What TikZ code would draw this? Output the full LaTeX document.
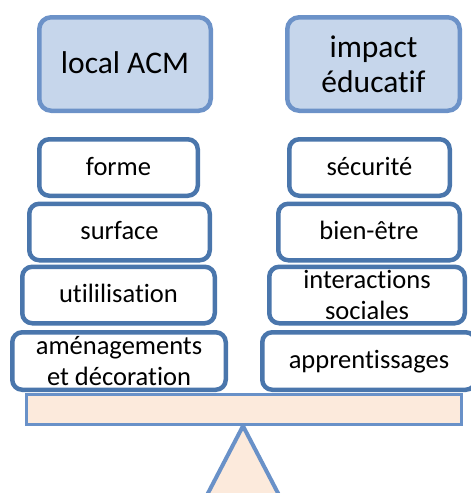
\documentclass[tikz,border=0pt]{standalone}
\usepackage{fontspec}
\setmainfont[Ligatures=NoCommon]{Carlito}
\definecolor{headfill}{HTML}{C6D6EB}
\definecolor{headline}{HTML}{6C92C8}
\definecolor{itemline}{HTML}{4A76AC}
\definecolor{beamfill}{HTML}{FCEADC}
\definecolor{beamline}{HTML}{6991C8}
\tikzset{
  header/.style={draw=headline, fill=headfill, line width=4.5pt, rounded corners=12pt,
    minimum width=#1, minimum height=93.5pt, align=center,
    font=\fontsize{31.5}{35}\selectfont, text height=22pt, text depth=4pt, inner sep=0pt},
  item/.style={draw=itemline, fill=white, line width=4.5pt, rounded corners=10pt,
    minimum width=#1, minimum height=56.5pt, align=center,
    font=\fontsize{26.5}{31}\selectfont, text height=18.5pt, text depth=3.5pt, inner sep=0pt},
  twolines/.style={text height={}, text depth={}},
}
\begin{document}
\begin{tikzpicture}[x=1pt, y=-1pt]
  \useasboundingbox (0,0) rectangle (471,493);
  \begin{scope}
    \clip (0,0) rectangle (471,493);
    % pivot of the balance
    \draw[draw=beamline, fill=beamfill, line width=4pt, line join=round]
      (243,426) -- (292,520) -- (194,520) -- cycle;
    % beam
    \node[draw=beamline, fill=beamfill, line width=3pt, minimum width=435pt,
      minimum height=30pt, inner sep=0pt] (beam) at (244,409.5) {};
    % left pan
    \node[header=171.5pt] (acm) at (125,64) {local ACM};
    \node[item=158.5pt] (forme) at (118.5,167.5) {forme};
    \node[item=180.5pt] (surface) at (119.5,232) {surface};
    \node[item=192.5pt] (util) at (118.5,295) {utililisation};
    \node[item=213.5pt, minimum height=57.5pt, twolines] (amen) at (119,361)
      {aménagements\\et décoration};
    % right pan
    \node[header=172.5pt, twolines] (impact) at (373.5,64) {impact\\éducatif};
    \node[item=160.5pt] (secu) at (369.5,167.5) {sécurité};
    \node[item=181.5pt] (bien) at (369,232) {bien-être};
    \node[item=195.5pt, twolines] (inter) at (367,295) {interactions\\sociales};
    \node[item=213.5pt, minimum height=57.5pt] (appr) at (369,361) {apprentissages};
  \end{scope}
\end{tikzpicture}
\end{document}
